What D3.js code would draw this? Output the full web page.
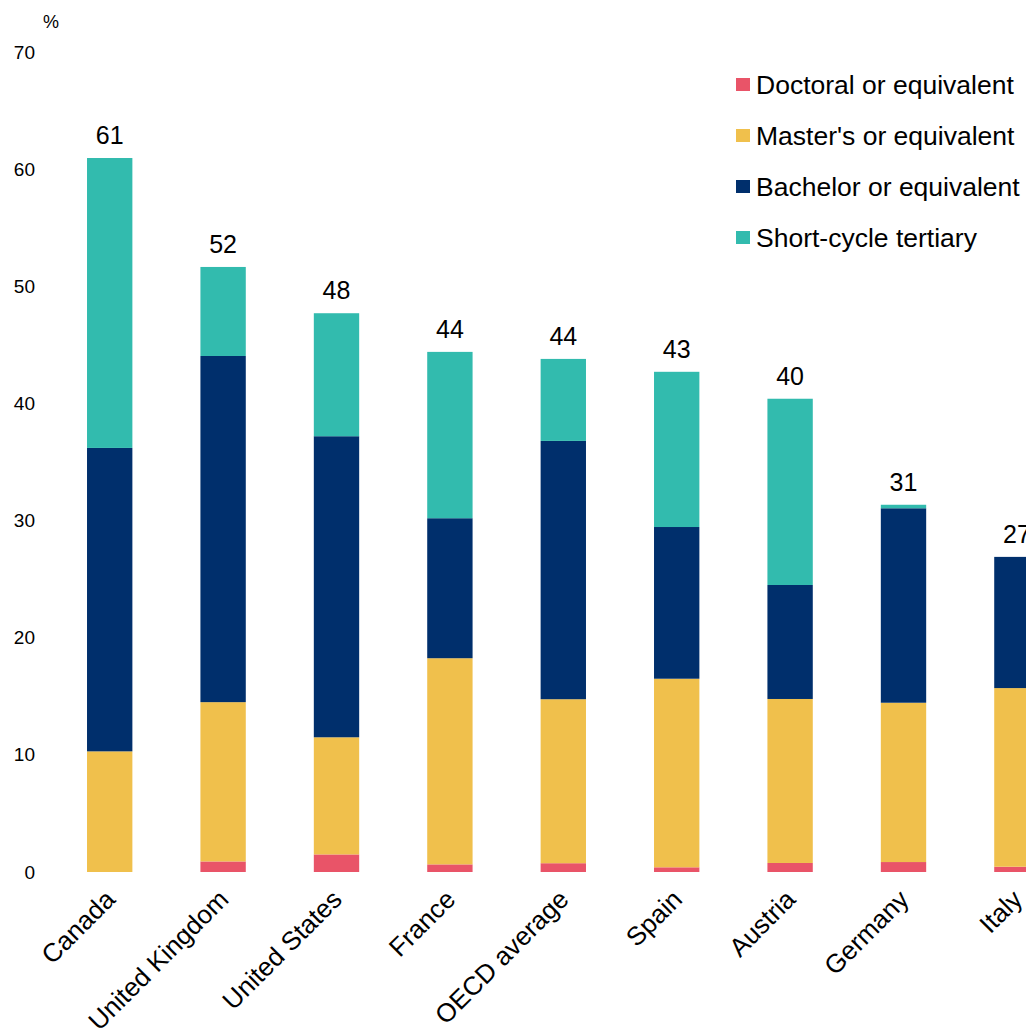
<!DOCTYPE html>
<html><head><meta charset="utf-8">
<script src="https://cdn.jsdelivr.net/npm/d3@7"></script>
<style>
body{margin:0;background:#fff;overflow:hidden;}
svg{display:block;font-family:"Liberation Sans",Arial,sans-serif;}
</style></head>
<body>
<svg id="chart" width="1026" height="1028"></svg>
<script>
const categories = ["Canada","United Kingdom","United States","France","OECD average","Spain","Austria","Germany","Italy"];
const doctoral   = [0.0, 0.9, 1.5, 0.65, 0.75, 0.4, 0.77, 0.85, 0.45];
const masters    = [10.3, 13.6, 10.0, 17.6, 14.0, 16.1, 14.0, 13.6, 15.25];
const bachelor   = [25.9, 29.55, 25.7, 11.95, 22.05, 12.95, 9.73, 16.6, 11.2];
const shortCycle = [24.75, 7.6, 10.5, 14.2, 7.0, 13.25, 15.9, 0.3, 0.0];
const totalLabels = [61, 52, 48, 44, 44, 43, 40, 31, 27];
const yTicks = [0,10,20,30,40,50,60,70];
const seriesNames = ["Doctoral or equivalent","Master's or equivalent","Bachelor or equivalent","Short-cycle tertiary"];
const seriesColors = ["#E95468","#F0C04C","#002F6C","#32BBAE"];

const svg = d3.select("#chart");
const y = d3.scaleLinear().domain([0,70]).range([872,52]);
const x = d3.scaleBand().domain(categories).range([53,1073.6]).paddingInner(0.6).paddingOuter(0.3);

const rows = categories.map((c,i)=>({cat:c, d:doctoral[i], m:masters[i], b:bachelor[i], s:shortCycle[i]}));
const stack = d3.stack().keys(["d","m","b","s"])(rows);

// y axis labels
const ya = svg.append("g").attr("transform","translate(35,0)")
  .call(d3.axisLeft(y).tickValues(yTicks).tickSize(0).tickPadding(0));
ya.select(".domain").remove();
ya.selectAll("text").attr("font-size",19).attr("fill","#000").attr("font-family","Liberation Sans, Arial, sans-serif");
svg.append("text").attr("x",51).attr("y",28).attr("text-anchor","middle").attr("font-size",18).text("%");

// bars
stack.forEach((layer,k)=>{
  svg.append("g").attr("fill",seriesColors[k]).selectAll("rect").data(layer).join("rect")
    .attr("x",d=>x(d.data.cat)).attr("width",x.bandwidth())
    .attr("y",d=>y(d[1])).attr("height",d=>Math.max(0,y(d[0])-y(d[1])));
});

// total labels
const totals = rows.map(r=>r.d+r.m+r.b+r.s);
svg.append("g").selectAll("text").data(categories).join("text")
  .attr("x",c=>x(c)+x.bandwidth()/2).attr("y",(c,i)=>y(totals[i])-14)
  .attr("text-anchor","middle").attr("font-size",25).attr("fill","#000")
  .text((c,i)=>totalLabels[i]);

// x axis labels
svg.append("g").selectAll("text").data(categories).join("text")
  .attr("transform",c=>`translate(${x(c)+x.bandwidth()/2+7},${901}) rotate(-45)`)
  .attr("text-anchor","end").attr("font-size",26).attr("fill","#000")
  .text(c=>c);

// legend
const lg = svg.append("g");
seriesNames.forEach((n,i)=>{
  const cy = 84.5 + i*51;
  lg.append("rect").attr("x",736).attr("y",cy-6.5).attr("width",14).attr("height",13).attr("fill",seriesColors[i]);
  lg.append("text").attr("x",756).attr("y",cy+9).attr("font-size",26.5).attr("fill","#000").text(n);
});
</script>
</body></html>
